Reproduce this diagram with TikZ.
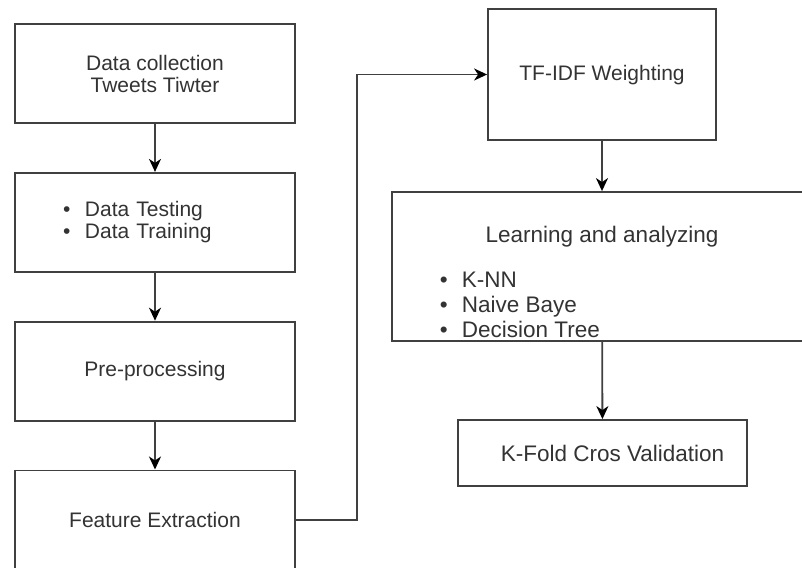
\documentclass[tikz,border=0pt]{standalone}
\usepackage{fontspec}
\setmainfont{Liberation Sans}
\usetikzlibrary{arrows.meta,positioning}
\definecolor{linegray}{HTML}{404040}
\definecolor{textgray}{HTML}{333333}
\tikzstyle{block} = [rectangle, draw=linegray, line width=1.8pt, text=textgray,
    font=\fontsize{21}{22}\selectfont, minimum width=280pt, minimum height=99pt, align=center]
\tikzstyle{plain} = [text=textgray, font=\fontsize{22.5}{25}\selectfont, inner sep=0pt]
\newcommand{\itm}[1]{\makebox[22pt][l]{\textbullet}#1}

\begin{document}
\begin{tikzpicture}[>={Stealth[length=13pt,width=12pt,inset=4pt,color=black]},x=1pt,y=-1pt,
                    node distance=48pt,line width=1.8pt,draw=linegray]
  \useasboundingbox (0,0) rectangle (802,567);

  % left column
  \node[block]                         (collect) at (155,73.5) {Data collection\\Tweets Tiwter};
  \node[block,align=left,inner xsep=48pt,text width=184pt] (split) [below=of collect]
        {\itm{Data Testing}\\\itm{Data Training}};
  \node[block]                         (prep)    [below=of split] {Pre-processing};
  \node[block]                         (feat)    [below=of prep]  {Feature Extraction};

  % right column
  \node[block,minimum width=228pt,minimum height=131pt,text depth=3pt] (tfidf) at (602,74.5) {TF-IDF Weighting};
  \node[block,minimum width=420pt,minimum height=149pt] (learn) at (602,266.5) {};
  \node[plain]                         (learntitle) at (602,237) {Learning and analyzing};
  \node[plain,anchor=west,align=left]  (algos) at (439,304.5)
        {\itm{K-NN}\\\itm{Naive Baye}\\\itm{Decision Tree}};
  \node[block,minimum width=289pt,minimum height=66pt,font=\fontsize{22.5}{25}\selectfont]
        (kfold) at (602.5,453) {\hspace*{20pt}K-Fold Cros Validation};

  \coordinate (bend) at (357,0);

  \path[->] (collect) edge (split)
            (split)   edge (prep)
            (prep)    edge (feat)
            (tfidf)   edge (learn)
            (learn)   edge (kfold);
  \draw[->] (feat.east) -- (feat.east -| bend) |- (tfidf.west);
\end{tikzpicture}
\end{document}
